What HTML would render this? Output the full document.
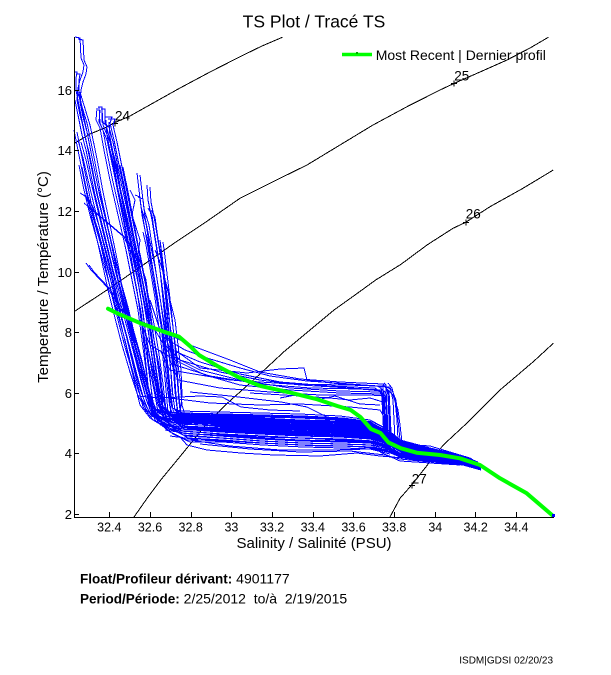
<!DOCTYPE html>
<html>
<head>
<meta charset="utf-8">
<style>
  html,body{margin:0;padding:0;background:#fff;}
  svg{display:block;}
  .t{font-family:"Liberation Sans",Arial,sans-serif;fill:#000;}
  .bl polyline{fill:none;stroke:#0000ff;stroke-width:1;}
  .ct polyline{fill:none;stroke:#000;stroke-width:1;}
</style>
</head>
<body>
<svg width="611" height="675" viewBox="0 0 611 675" xmlns="http://www.w3.org/2000/svg">
  <rect x="0" y="0" width="611" height="675" fill="#fff"/>

  <!-- Title -->
  <text class="t" x="314" y="27.5" font-size="17.5" text-anchor="middle">TS Plot / Tracé TS</text>

  <!-- density contours -->
  <g class="ct" shape-rendering="crispEdges">
    <polyline points="74,143.5 90,134 107,127 115,122.5 130,116 155,102 180,88 210,72 240,56.7 262,46 282.3,37.3"/>
    <polyline points="74,311.7 107,290 140.7,266.7 174,243.3 204,223.3 240,198.3 273,181.7 307,165 340,145 373,125 407,106.7 440,90 454.3,83.3 480,72 507,60 530,48 548.3,37.3"/>
    <polyline points="134,517 148,497 161.3,479.3 184,451.7 207,423.3 227.3,403.3 257,376.7 284,351.7 310,330 334,310 355,295 375.7,280 401,264.3 427,245 453,228.3 465.7,222.3 490,206.7 523,188.3 553.3,170"/>
    <polyline points="390,517 400,498.3 411.7,485 430,461.7 443.3,445 466.7,423.3 500,390 533.3,361.7 553.3,343.3"/>
  </g>
  <!-- contour label markers -->
  <g stroke="#000" stroke-width="1" shape-rendering="crispEdges">
    <line x1="112" y1="123.5" x2="118" y2="123.5"/><line x1="115" y1="120.5" x2="115" y2="126.5"/>
    <line x1="451" y1="83.5" x2="457" y2="83.5"/><line x1="454" y1="80.5" x2="454" y2="86.5"/>
    <line x1="463" y1="222.5" x2="469" y2="222.5"/><line x1="466" y1="219.5" x2="466" y2="225.5"/>
    <line x1="409" y1="485.5" x2="415" y2="485.5"/><line x1="412" y1="482.5" x2="412" y2="488.5"/>
  </g>
  <g class="t" font-size="13.5">
    <text x="115" y="120.5">24</text>
    <text x="454.3" y="80.5">25</text>
    <text x="465.7" y="218.5">26</text>
    <text x="411.7" y="483.3">27</text>
  </g>

  <!-- blue profiles -->
  <g class="bl" shape-rendering="crispEdges">
    <g id="prof">
      <polyline points="75,37 80,38 81,58 84,65 83,72 80,80 78,88 77,100 80,115 84,130 88,150 92,170 97,195 102,215 108,240 114,265 120,290 127,315 133,340 140,365 146,390 150,410 158,420 180,424 220,426 260,428 300,430 340,431 370,434 385,439 400,448 430,454 460,459 478,465"/>
      <polyline points="74,72 77,72 76,78 76,90 79,105 83,125 86,140 90,160 95,185 100,205 106,230 112,255 118,280 125,305 131,330 138,355 144,380 150,405 156,416 180,420 220,422 260,424 300,425 340,427 370,430 385,436 400,446 430,452 460,458 476,464"/>
      <polyline points="77,90 80,100 87,123 94,157 100,190 107,223 114,257 120,290 127,320 133,345 140,370 147,395 152,408 165,412 180,413 220,414 260,415 300,416 340,418 370,422 385,430 400,441 430,449 460,456 478,462"/>
      <polyline points="99,107 100,123 107,140 114,173 124,223 130,257 137,290 141,320 145,345 150,370 155,395 158,412 180,416 220,418 260,419 300,421 340,422 370,426 385,433 400,443 430,450 460,457 475,463"/>
      <polyline points="106,120 107,135 111,155 117,185 124,215 131,245 137,275 142,305 146,335 150,360 154,385 158,405 164,416 180,418 220,420 260,422 300,423 340,425 370,428 385,434 400,444 430,451 460,457 478,464"/>
      <polyline points="97,108 96,120 100,128 104,150 110,180 118,215 126,250 132,280 138,310 142,340 146,370 150,400 157,417 180,422 220,424 260,426 300,427 340,429 370,432 385,437 400,447 430,453 460,458 472,464"/>
      <polyline points="137,173 139,190 141,207 146,223 151,257 156,290 161,320 165,345 168,370 170,395 172,408 180,411 220,412 260,413 300,414 340,416 370,420 385,428 400,440 430,448 460,455 478,462"/>
      <polyline points="147,185 148,200 152,220 156,245 160,270 163,300 166,330 170,360 172,390 175,410 180,415 220,416 260,417 300,418 340,420 370,424 385,431 400,442 430,450 460,456 476,463"/>
      <polyline points="135,195 140,197 142,215 147,240 152,265 157,295 161,325 164,355 167,385 170,408 176,420 185,427 220,428 260,430 300,432 340,433 370,435 385,440 400,449 430,455 460,460 478,465"/>
      <polyline points="148,208 152,215 154,230 158,255 162,285 166,315 170,345 174,375 176,400 178,416 183,426 220,430 260,432 300,434 340,435 370,437 385,442 400,450 430,456 460,460 474,466"/>
      <polyline points="79,165 84,190 90,215 97,240 104,265 111,290 118,315 125,340 131,365 138,390 146,410 160,422 180,429 220,432 260,434 300,436 340,437 370,439 385,443 400,451 430,457 460,461 478,466"/>
      <polyline points="80,193 85,196 90,205 98,230 106,260 113,290 120,320 127,350 134,380 140,405 150,418 165,427 180,431 220,434 260,437 300,438 340,440 370,441 385,445 400,453 430,457 460,461 476,467"/>
      <polyline points="86,263 91,270 107,287 117,303 127,320 133,340 140,365 148,395 152,412 162,424 180,433 220,436 260,439 300,441 340,442 370,443 385,447 400,454 430,458 460,462 478,467"/>
      <polyline points="84,203 124,237 135,260 142,290 148,320 153,350 157,380 160,405 165,420 175,430 185,436 220,438 260,441 300,443 340,444 370,445 385,448 400,455 430,459 460,462 478,468"/>
      <polyline points="110,150 114,165 118,190 124,220 130,250 135,280 140,310 144,345 147,375 150,405 155,420 170,432 187,440 220,440 260,443 300,445 340,446 370,447 385,450 400,456 430,460 460,463 478,468"/>
      <polyline points="120,165 123,180 128,205 133,232 139,262 145,292 151,322 156,352 160,382 163,408 170,414 180,416 220,417 260,418 300,420 340,421 370,425 385,432 400,442 430,449 460,456 470,462"/>
      <polyline points="160,240 162,255 165,280 168,305 171,335 174,365 176,395 178,415 185,419 220,421 260,423 300,424 340,426 370,429 385,435 400,445 430,452 460,458 478,464"/>
      <polyline points="143,232 146,245 150,268 155,298 159,328 163,358 166,390 168,412 175,421 220,425 260,427 300,428 340,430 370,433 385,438 400,447 430,453 460,459 478,465"/>
      <polyline points="78,140 83,158 88,180 94,205 100,230 107,258 114,288 122,318 130,348 137,375 144,400 150,414 165,424 185,428 220,429 260,431 300,433 340,434 370,436 385,441 400,450 430,455 460,460 476,466"/>
      <polyline points="74,130 76,140 80,160 85,185 90,210 96,235 102,262 108,290 115,318 122,345 130,372 138,396 148,412 170,420 220,423 260,425 300,426 340,428 370,431 385,437"/>
      <polyline points="75,100 78,115 82,135 86,150 90,170 95,195 101,220 107,245 113,270 120,295 127,322 134,350 141,378 147,402 160,414 200,419 260,421 320,423 370,427 385,434"/>
      <polyline points="98,107 102,107 102,122 106,125 110,140 114,160 119,185 125,212 131,240 137,268 143,298 148,328 152,358 156,388 160,410 180,419 230,421 290,424 350,426 380,430"/>
      <polyline points="105,117 112,117 110,123 114,140 119,165 125,195 131,225 137,255 143,285 148,315 152,345 157,375 162,405 180,426 240,429 300,431 360,433 385,439"/>
    </g>
    <use href="#prof" transform="translate(3,2)"/>

    <!-- extra steep lines on right edge -->
    <polyline points="165,280 170,300 175,320 178,345 181,370 182,395 180,415 190,421 230,423"/>
    <polyline points="155,250 160,262 168,290 172,320 176,350 180,380 182,405 186,418 220,420"/>
    <polyline points="130,190 135,200 132,215 140,240 138,255 146,280 150,310 154,340 160,370 163,400 170,418"/>

    <!-- extra band lines -->
    <polyline points="155,409 180,414 220,415 260,416 300,417 340,419 370,423 385,430 400,441 430,449 460,456 478,463"/>
    <polyline points="150,416 180,421 220,423 260,425 300,426 340,428 370,431 385,436 400,446 430,452 460,458 478,464"/>
    <polyline points="160,425 180,427 220,430 260,431 300,433 340,434 370,436 385,441 400,450 430,456 460,460 478,466"/>
    <polyline points="165,430 190,434 220,435 260,438 300,440 340,441 370,442 385,446 400,453 430,457 460,461 478,467"/>
    <polyline points="170,436 200,440 240,442 280,444 320,446 350,446 372,448 386,451 400,457 430,460 460,463 476,468"/>
    <polyline points="180,437 187,445 207,450 241,453 274,455 320,456 357,453 380,456 404,458 440,462 470,466"/>
    <polyline points="200,444 250,449 300,452 350,451 385,455 400,459 430,462"/>
    <polyline points="190,440 230,446 280,450 330,450 370,449 390,454"/>

    <!-- mid sparse -->
    <polyline points="137,396 160,398 200,396 222,397 241,407 270,410 300,411"/>
    <polyline points="190,392 230,396 281,402 307,407 327,417 350,420"/>
    <polyline points="250,393 300,396 330,398 350,400 370,398 383,402 386,430 390,445"/>
    <polyline points="170,398 210,403 260,405 300,404 350,407 380,410 386,420"/>
    <polyline points="280,398 300,394 316,400 335,396 360,404 380,405"/>

    <!-- upper band -->
    <polyline points="150,210 154,230 158,255 162,285 165,315 168,340 185,350 207,358 240,368 270,376 307,381 350,384 378,386 385,392 387,420 389,440 395,448 420,455 460,461 478,466"/>
    <polyline points="160,240 163,270 166,300 169,330 172,350 200,362 240,374 280,382 330,386 375,388 384,395 386,425 390,445 410,452 450,458 475,464"/>
    <polyline points="140,200 145,230 150,260 155,290 160,320 165,345 180,360 220,372 260,380 300,385 350,388 380,390 386,400 388,440 400,450 440,456 470,462"/>
    <polyline points="165,335 175,365 210,376 260,384 310,388 360,389 382,391 385,410 386,445 405,452"/>
    <polyline points="155,330 170,355 200,370 240,380 290,388 340,391 380,392 384,400 385,440 395,450"/>
    <polyline points="150,300 160,330 190,345 230,360 260,372 300,379 340,382 383,384 388,390 390,430 392,446"/>
    <polyline points="170,360 178,380 220,388 270,392 320,395 370,395 386,396 387,440"/>
    <polyline points="140,320 150,345 175,360 205,375 240,385 290,390 340,393 382,394 384,430 386,448"/>
    <polyline points="175,350 200,368 247,373 280,369 304,368 307,380 340,384 390,387 393,400 395,440"/>
    <polyline points="160,350 170,370 230,380 290,384 345,385 385,386 392,390 396,400 398,420 400,440 410,450"/>

    <!-- step bundle -->
    <polyline points="381,386 382,400 383,420 384,440 390,448"/>
    <polyline points="383,385 384,405 385,425 387,446"/>
    <polyline points="386,388 387,410 388,430 390,447"/>
    <polyline points="389,390 390,410 391,432 394,447"/>
    <polyline points="384,383 386,385 388,395 389,420 390,440"/>
    <polyline points="388,383 392,388 395,400 397,420 398,440 402,448"/>
    <polyline points="385,387 393,395 398,410 400,425 402,442"/>

    <!-- tail -->
    <polyline points="385,445 400,446 420,449 440,452 460,456 480,464"/>
    <polyline points="390,450 410,458 440,461 470,466"/>
    <polyline points="380,452 400,461 430,463 460,465"/>
    <polyline points="400,444 430,446 450,452 470,458 482,466"/>
  </g>

  <!-- green most recent profile -->
  <polyline points="108,308.7 117.3,313.3 140.7,323.3 164,331.7 179,336.7 190.7,346.7 199,355 217.3,366 240.7,378.3 260.7,386 290.7,392.7 317.3,399.3 337.3,406 350.7,410 360.7,417.3 371,429 380.5,433 388.5,442.5 401,448.3 416.7,452.7 440,455 460,458.3 480,465 500,478.3 526.7,493.3 552,515" fill="none" stroke="#00ff00" stroke-width="4" stroke-linejoin="round" stroke-linecap="round"/>
  <rect x="552" y="514" width="3" height="3" fill="#0000ff"/>

  <!-- axes -->
  <g stroke="#000" stroke-width="1" shape-rendering="crispEdges">
    <line x1="74.5" y1="37" x2="74.5" y2="517.5"/>
    <line x1="74" y1="517.5" x2="554" y2="517.5"/>
    <!-- y ticks -->
    <line x1="74" y1="514.5" x2="79" y2="514.5"/>
    <line x1="74" y1="453.5" x2="79" y2="453.5"/>
    <line x1="74" y1="393.5" x2="79" y2="393.5"/>
    <line x1="74" y1="332.5" x2="79" y2="332.5"/>
    <line x1="74" y1="272.5" x2="79" y2="272.5"/>
    <line x1="74" y1="211.5" x2="79" y2="211.5"/>
    <line x1="74" y1="150.5" x2="79" y2="150.5"/>
    <line x1="74" y1="90.5" x2="79" y2="90.5"/>
    <!-- x ticks -->
    <line x1="109.5" y1="512" x2="109.5" y2="517"/>
    <line x1="150.5" y1="512" x2="150.5" y2="517"/>
    <line x1="191.5" y1="512" x2="191.5" y2="517"/>
    <line x1="231.5" y1="512" x2="231.5" y2="517"/>
    <line x1="272.5" y1="512" x2="272.5" y2="517"/>
    <line x1="313.5" y1="512" x2="313.5" y2="517"/>
    <line x1="353.5" y1="512" x2="353.5" y2="517"/>
    <line x1="394.5" y1="512" x2="394.5" y2="517"/>
    <line x1="435.5" y1="512" x2="435.5" y2="517"/>
    <line x1="475.5" y1="512" x2="475.5" y2="517"/>
    <line x1="516.5" y1="512" x2="516.5" y2="517"/>
  </g>

  <!-- y tick labels -->
  <g class="t" font-size="13" text-anchor="end">
    <text x="72" y="519">2</text>
    <text x="72" y="458">4</text>
    <text x="72" y="398">6</text>
    <text x="72" y="337">8</text>
    <text x="72" y="277">10</text>
    <text x="72" y="216">12</text>
    <text x="72" y="155">14</text>
    <text x="72" y="95">16</text>
  </g>
  <!-- x tick labels -->
  <g class="t" font-size="12.5" text-anchor="middle">
    <text x="109.3" y="531.5">32.4</text>
    <text x="150" y="531.5">32.6</text>
    <text x="190.7" y="531.5">32.8</text>
    <text x="231.4" y="531.5">33</text>
    <text x="272.1" y="531.5">33.2</text>
    <text x="312.8" y="531.5">33.4</text>
    <text x="353.5" y="531.5">33.6</text>
    <text x="394.2" y="531.5">33.8</text>
    <text x="435.3" y="531.5">34</text>
    <text x="475.7" y="531.5">34.2</text>
    <text x="516.3" y="531.5">34.4</text>
  </g>

  <!-- axis labels -->
  <text class="t" x="314" y="548" font-size="15" text-anchor="middle">Salinity / Salinité (PSU)</text>
  <text class="t" x="0" y="0" font-size="15" text-anchor="middle" transform="translate(48,277) rotate(-90)">Temperature / Température (°C)</text>

  <!-- legend -->
  <line x1="342" y1="54.5" x2="372" y2="54.5" stroke="#00ff00" stroke-width="3.5"/>
  <rect x="356" y="52" width="2" height="2" fill="#00aa00"/>
  <text class="t" x="375.7" y="60" font-size="14">Most Recent | Dernier profil</text>

  <!-- info text -->
  <text class="t" x="80" y="583.3" font-size="13.5" xml:space="preserve"><tspan font-weight="bold">Float/Profileur dérivant:</tspan><tspan font-size="14"> 4901177</tspan></text>
  <text class="t" x="80" y="603.3" font-size="13.5" xml:space="preserve"><tspan font-weight="bold">Period/Période:</tspan><tspan font-size="14"> 2/25/2012  to/à  2/19/2015</tspan></text>

  <text class="t" x="553" y="663.5" font-size="10" text-anchor="end">ISDM|GDSI 02/20/23</text>
</svg>
</body>
</html>
